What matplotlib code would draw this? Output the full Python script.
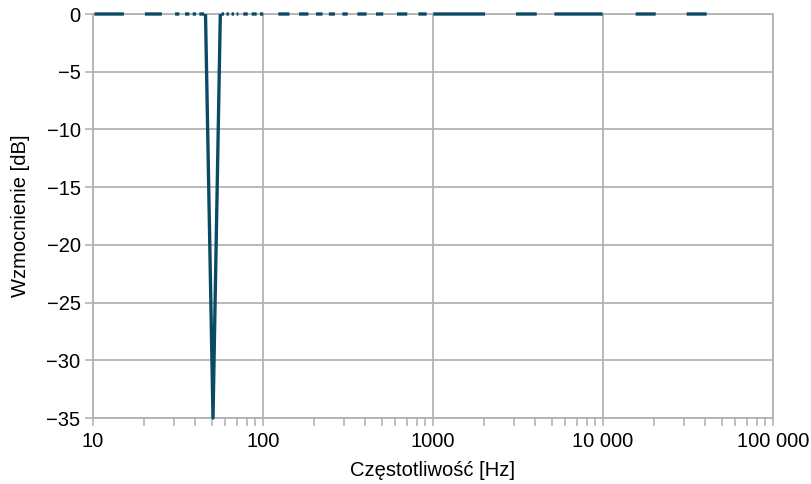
import numpy as np
import matplotlib
matplotlib.use("Agg")
import matplotlib.pyplot as plt
from matplotlib.ticker import FixedLocator, LogLocator, NullFormatter

plt.rcParams['font.family'] = ['Liberation Sans', 'DejaVu Sans']

# odcinki linii 0 dB widoczne na wykresie (od, do) [Hz]
flat_lo = [10.2, 20.2, 30.4, 34.8, 38.6, 42.2, 57, 61, 65.4, 70, 76.6, 85.8, 96,
           123, 163, 205, 244, 293, 359, 462, 614, 820, 1004, 3076, 5176, 15560, 31050]
flat_hi = [15.2, 25.4, 32.2, 36.9, 40.4, 45.0, 59, 63, 67.5, 71.6, 81.3, 91.8, 100.4,
           143, 185, 224, 265, 315, 407, 510, 706, 918, 2023, 4074, 9960, 20420, 40740]
# filtr zaporowy 50 Hz
notch_f = [45.9, 50.8, 56.1]
notch_g = [0, -35, 0]

xticks = [10, 100, 1000, 10000, 100000]
xlabels = ['10', '100', '1000', '10 000', '100 000']
yticks = [0, -5, -10, -15, -20, -25, -30, -35]

freq = []
gain = []
for lo, hi in zip(flat_lo, flat_hi):
    freq += [lo, hi, np.nan]
    gain += [0, 0, np.nan]
freq += notch_f
gain += notch_g

fig = plt.figure(figsize=(8.11, 4.84), dpi=100)
ax = fig.add_axes([93 / 811, 66 / 484, 680 / 811, 404 / 484])

grey = '#b3b3b3'
line_c = '#0b4a65'

ax.set_xscale('log')
ax.set_xlim(10, 100000)
ax.set_ylim(-35, 0)

ax.plot(freq, gain, color=line_c, linewidth=2.4, clip_on=False, zorder=5,
        solid_capstyle='butt')

ax.xaxis.set_major_locator(FixedLocator(xticks))
ax.set_xticklabels(xlabels)
ax.xaxis.set_minor_locator(LogLocator(base=10, subs=np.arange(2, 10)))
ax.xaxis.set_minor_formatter(NullFormatter())
ax.set_yticks(yticks)
ax.set_yticklabels([str(v).replace('-', '\u2212') for v in yticks])

ax.grid(True, which='major', color=grey, linewidth=1.3)
for s in ax.spines.values():
    s.set_color(grey)
    s.set_linewidth(1.3)
ax.tick_params(which='both', colors=grey, labelcolor='black', labelsize=14.5,
               length=6, width=1.2, direction='out')
ax.tick_params(axis='x', pad=4)
ax.tick_params(axis='y', pad=3)

ax.set_xlabel('Częstotliwość [Hz]', fontsize=14.5, labelpad=7)
ax.set_ylabel('Wzmocnienie [dB]', fontsize=14.5, labelpad=12)

fig.savefig('out.png', dpi=100)
